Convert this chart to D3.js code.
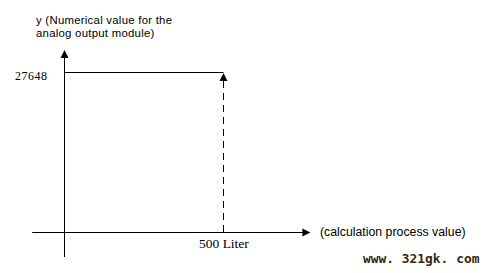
<!DOCTYPE html>
<html>
<head>
<meta charset="utf-8">
<script src="https://cdn.jsdelivr.net/npm/d3@7"></script>
<style>
  body { margin: 0; background: #fff; }
  svg { display: block; }
</style>
</head>
<body>
<div id="svg-container"></div>
<script>
//////////////  Data  //////////////
const xValues = [0, 500];
const xTickLabels = ["500 Liter"];
const yValues = [27648, 27648];
const yTickLabels = ["27648"];
const yAxisTitle = ["y (Numerical value for the", "analog output module)"];
const xAxisTitle = "(calculation process value)";
const watermark = "www. 321gk. com";

//////////////  Init  //////////////
const width = 485;
const height = 273;

const svg = d3.select("#svg-container").append("svg")
  .attr("width", width)
  .attr("height", height);

// scales
const xScale = d3.scaleLinear().domain([0, 500]).range([64, 223]);
const yScale = d3.scaleLinear().domain([0, 27648]).range([232, 72]);

// axis extents (in data units)
const xExt = [-100, 770];
const yExt = [-4320, 31450];

const sans = "'Liberation Sans', Arial, sans-serif";
const serif = "'Liberation Serif', 'Times New Roman', serif";

const px = (v) => Math.round(v) + 0.5;

// arrow head helper
function arrow(x, y, dir) {
  const s = 4, l = 8;
  let p;
  if (dir === "up") p = [[x, y], [x - s, y + l], [x + s, y + l]];
  else p = [[x, y], [x - l, y - s], [x - l, y + s]];
  svg.append("path")
    .attr("d", d3.line()(p) + "Z")
    .attr("fill", "#000");
}

//////////////  Axes  //////////////
const x0 = px(xScale(0));
const y0 = px(yScale(0));

// x axis
svg.append("line")
  .attr("x1", xScale(xExt[0])).attr("x2", xScale(xExt[1]) - 6)
  .attr("y1", y0).attr("y2", y0)
  .attr("stroke", "#000").attr("stroke-width", 1);
arrow(xScale(xExt[1]) + 1.5, y0, "right");

// y axis
svg.append("line")
  .attr("x1", x0).attr("x2", x0)
  .attr("y1", yScale(yExt[0])).attr("y2", yScale(yExt[1]) + 6)
  .attr("stroke", "#000").attr("stroke-width", 1);
arrow(x0, yScale(yExt[1]), "up");

//////////////  Lines  //////////////
const line = d3.line()
  .x((d, i) => px(xScale(d)))
  .y((d, i) => px(yScale(yValues[i])));

svg.append("path")
  .datum(xValues)
  .attr("d", line)
  .attr("fill", "none")
  .attr("stroke", "#000");

// dashed vertical at 500
const xv = px(xScale(xValues[1]));
svg.append("line")
  .attr("x1", xv).attr("x2", xv)
  .attr("y1", yScale(0)).attr("y2", yScale(yValues[1]) + 8)
  .attr("stroke", "#000")
  .attr("stroke-dasharray", "7,5");
arrow(xv, yScale(yValues[1]) + 1, "up");

//////////////  Labels  //////////////
svg.append("text")
  .attr("x", 199)
  .attr("y", y0 + 15)
  .attr("font-family", serif)
  .attr("font-size", 13.5)
  .text(xTickLabels[0]);

svg.append("text")
  .attr("x", 15)
  .attr("y", yScale(yValues[0]) + 8)
  .attr("font-family", serif)
  .attr("font-size", 12)
  .attr("letter-spacing", 0.5)
  .text(yTickLabels[0]);

svg.append("g")
  .selectAll("text")
  .data(yAxisTitle)
  .join("text")
  .attr("x", 36)
  .attr("y", (d, i) => 24 + i * 13)
  .attr("font-family", sans)
  .attr("font-size", 11.4)
  .attr("letter-spacing", 0.25)
  .text((d) => d);

svg.append("text")
  .attr("x", 320)
  .attr("y", 236)
  .attr("font-family", sans)
  .attr("font-size", 12.3)
  .text(xAxisTitle);

svg.append("text")
  .attr("x", 363)
  .attr("y", 263)
  .attr("font-family", "'DejaVu Sans Mono', monospace")
  .attr("font-weight", "bold")
  .attr("font-size", 12.9)
  .attr("fill", "#3a2812")
  .text(watermark);
</script>
</body>
</html>
